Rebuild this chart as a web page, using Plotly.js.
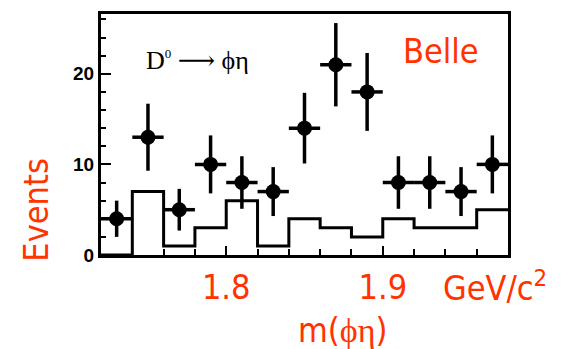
<!DOCTYPE html>
<html>
<head>
<meta charset="utf-8">
<script src="https://cdn.plot.ly/plotly-3.0.1.min.js"></script>
<style>html,body{margin:0;padding:0;background:#fff;}#chart{width:569px;height:349px;}</style>
</head>
<body>
<div id="chart"></div>
<script>
// ---- data ----
const binCenters = [1.73, 1.75, 1.77, 1.79, 1.81, 1.83, 1.85, 1.87, 1.89, 1.91, 1.93, 1.95, 1.97];
const events     = [4, 13, 5, 10, 8, 7, 14, 21, 18, 8, 8, 7, 10];
const eventErr   = [2.0, 3.7, 2.3, 3.2, 2.9, 2.7, 3.9, 4.6, 4.3, 2.9, 2.9, 2.7, 3.2];
const binHalfWidth = 0.01;
const binEdges   = [1.72, 1.74, 1.76, 1.78, 1.80, 1.82, 1.84, 1.86, 1.88, 1.90, 1.92, 1.94, 1.96, 1.98];
const background = [0, 7, 1, 3, 6, 1, 4, 3, 2, 4, 3, 3, 5];
const xTickVals  = [1.8, 1.9];
const xTickText  = ['1.8', '1.9'];
const yTickVals  = [0, 10, 20];
const yTickText  = ['0', '10', '20'];

// ---- layout helpers ----
const W = 569, H = 349, L = 101, R = 61, T = 13.5, B = 93.5;
const PW = W - L - R, PH = H - T - B;
const px = x => (x - L) / PW;
const py = y => (H - B - y) / PH;
const RED = 'rgb(255,51,0)';
const SANS = '"DejaVu Sans Condensed", "DejaVu Sans", Verdana, sans-serif';
const SERIF = '"Liberation Serif", "DejaVu Serif", serif';

const bgY = background.concat([background[background.length - 1]]);

const traces = [
  {
    type: 'scatter', mode: 'lines', x: binEdges, y: bgY,
    line: {shape: 'hv', color: 'black', width: 3},
    hoverinfo: 'skip', showlegend: false
  },
  {
    type: 'scatter', mode: 'markers', x: binCenters, y: events,
    marker: {color: 'black', size: 15},
    error_y: {type: 'data', array: eventErr, visible: true, color: 'black', thickness: 3.5, width: 0},
    error_x: {type: 'constant', value: binHalfWidth, visible: true, color: 'black', thickness: 3.5, width: 0},
    cliponaxis: false, showlegend: false
  }
];

const layout = {
  width: W, height: H,
  margin: {l: L, r: R, t: T, b: B, pad: 0},
  paper_bgcolor: 'white', plot_bgcolor: 'white',
  showlegend: false,
  xaxis: {
    range: [1.72, 1.98], showgrid: false, zeroline: false,
    showline: true, linecolor: 'black', linewidth: 3, mirror: true,
    tickmode: 'array', tickvals: xTickVals, ticktext: xTickText,
    ticks: 'inside', ticklen: 9, tickwidth: 2, tickcolor: 'black',
    tickfont: {family: SANS, size: 34, color: RED},
    minor: {dtick: 0.02, tick0: 1.72, ticks: 'inside', ticklen: 6, tickwidth: 2, tickcolor: 'black', showgrid: false}
  },
  yaxis: {
    range: [0, 26.6], showgrid: false, zeroline: false,
    showline: true, linecolor: 'black', linewidth: 3, mirror: true,
    tickmode: 'array', tickvals: yTickVals, ticktext: yTickText,
    ticks: 'inside', ticklen: 10, tickwidth: 2, tickcolor: 'black',
    tickfont: {family: '"Liberation Sans", Arial, sans-serif', size: 19, color: 'black', weight: 'bold'},
    minor: {dtick: 2, tick0: 0, ticks: 'inside', ticklen: 5, tickwidth: 2, tickcolor: 'black', showgrid: false}
  },
  annotations: [
    {text: 'Belle', xref: 'paper', yref: 'paper', x: px(401), y: py(51), xanchor: 'left', yanchor: 'middle',
     showarrow: false, font: {family: SANS, size: 34, color: RED}},
    {text: 'D<sup><span style="font-size:13px">0</span></sup> \u27F6 \u03D5\u03B7', xref: 'paper', yref: 'paper', x: px(144), y: py(60), xanchor: 'left', yanchor: 'middle',
     showarrow: false, font: {family: SERIF, size: 26, color: 'black'}},
    {text: 'GeV/c<sup>2</sup>', xref: 'paper', yref: 'paper', x: px(441), y: py(287), xanchor: 'left', yanchor: 'middle',
     showarrow: false, font: {family: SANS, size: 34, color: RED}},
    {text: 'm(<span style="font-family:Liberation Serif">\u03D5\u03B7</span>)', xref: 'paper', yref: 'paper', x: px(342), y: py(331), xanchor: 'center', yanchor: 'middle',
     showarrow: false, font: {family: SANS, size: 34, color: RED}},
    {text: 'Events', xref: 'paper', yref: 'paper', x: px(36), y: py(210), xanchor: 'center', yanchor: 'middle', textangle: -90,
     showarrow: false, font: {family: SANS, size: 34, color: RED}}
  ]
};

Plotly.newPlot('chart', traces, layout, {staticPlot: true, displayModeBar: false});
</script>
</body>
</html>
